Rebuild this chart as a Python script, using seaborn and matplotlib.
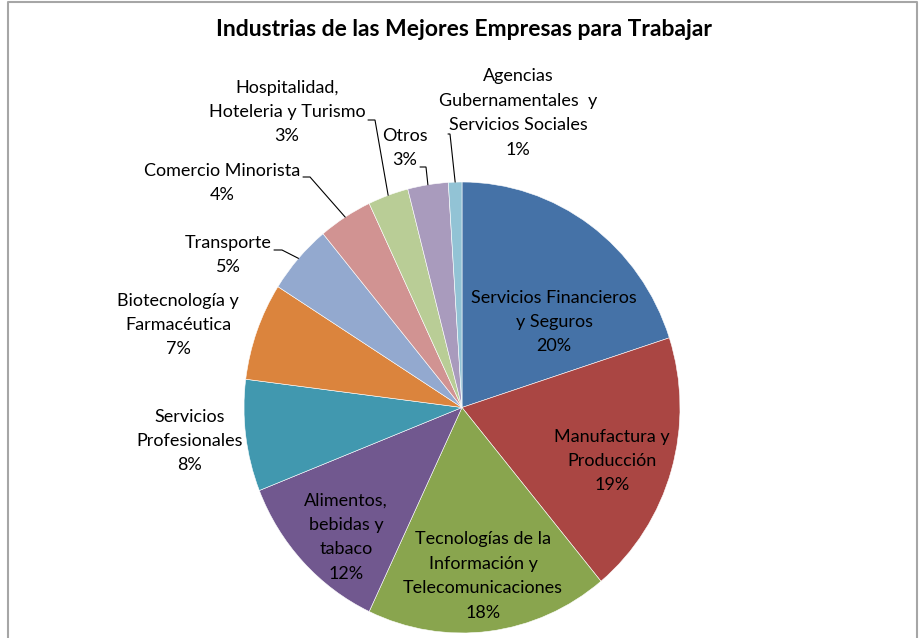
import numpy as np
import matplotlib
matplotlib.use("Agg")
import matplotlib.pyplot as plt
import seaborn as sns

# ---- data ----
categories = [
    "Servicios Financieros\ny Seguros",
    "Manufactura y\nProducción",
    "Tecnologías de la\nInformación y\nTelecomunicaciones",
    "Alimentos,\nbebidas y\ntabaco",
    "Servicios\nProfesionales",
    "Biotecnología y\nFarmacéutica",
    "Transporte",
    "Comercio Minorista",
    "Hospitalidad,\nHoteleria y Turismo",
    "Otros",
    "Agencias\nGubernamentales  y\nServicios Sociales",
]
values = [20, 19, 18, 12, 8, 7, 5, 4, 3, 3, 1]
colors = ["#4572A7", "#AA4643", "#89A54E", "#71588F", "#4198AF", "#DB843D",
          "#93A9CF", "#D19392", "#B9CD96", "#A99BBD", "#92C3D5"]
title = "Industrias de las Mejores Empresas para Trabajar"

# ---- layout (pixel coordinates, y from top) ----
W, H = 924, 638
CX, CY, RX, RY = 462, 407.5, 218, 225.5
label_pos = [(554, 322), (612, 461), (483, 576), (346, 537), (190, 441),
             (178, 325), (228, 255), (222, 183), (287, 112), (405, 148), (518, 113)]
# leader lines: (start, elbow) in pixel coords, None = no leader
leaders = [None, None, None, None, None, None,
           ((274, 250), (282, 250)),
           ((303, 177), (310, 177)),
           ((368, 120), (375, 120)),
           ((420, 167), (426, 167)),
           ((448, 134), (450, 134))]

sns.set_theme(style="white")
plt.rcParams["font.family"] = ["Lato", "DejaVu Sans"]

fig = plt.figure(figsize=(W / 100, H / 100), dpi=100)

# pie axes (slightly elliptical, like the stretched reference)
pax = fig.add_axes([(CX - RX) / W, (H - (CY + RY)) / H, 2 * RX / W, 2 * RY / H])
pax.pie(values, colors=colors, startangle=90, counterclock=False,
        radius=1, center=(0, 0),
        wedgeprops=dict(edgecolor="white", linewidth=0.4))
pax.set_aspect("auto")
pax.set_xlim(-1, 1)
pax.set_ylim(-1, 1)
pax.axis("off")

# overlay axes in pixel coordinates for text, leaders, border
ax = fig.add_axes([0, 0, 1, 1])
ax.set_xlim(0, W)
ax.set_ylim(0, H)
ax.axis("off")

def Y(y):
    return H - y

total = sum(values)
cum = 0
for i, (cat, v) in enumerate(zip(categories, values)):
    mid = 90 - 360 * (cum + v / 2) / total
    cum += v
    lx, ly = label_pos[i]
    ax.text(lx, Y(ly), f"{cat}\n{v}%", ha="center", va="center",
            multialignment="center", fontsize=13, color="black",
            linespacing=1.65)
    if leaders[i] is not None:
        (sx, sy), (ex, ey) = leaders[i]
        px = CX + RX * np.cos(np.radians(mid))
        py = CY - RY * np.sin(np.radians(mid))
        ax.plot([sx, ex, px], [Y(sy), Y(ey), Y(py)], color="black", lw=0.8,
                solid_joinstyle="miter")

ax.text(W / 2 + 2, Y(30), title, ha="center", va="center",
        fontsize=16.5, fontweight="bold", color="black")

# chart border
ax.plot([8, 8, 917, 917], [0, Y(2), Y(2), 0], color="#A6A6A6", lw=1.5,
        clip_on=False)

fig.savefig("out.png", dpi=100)
